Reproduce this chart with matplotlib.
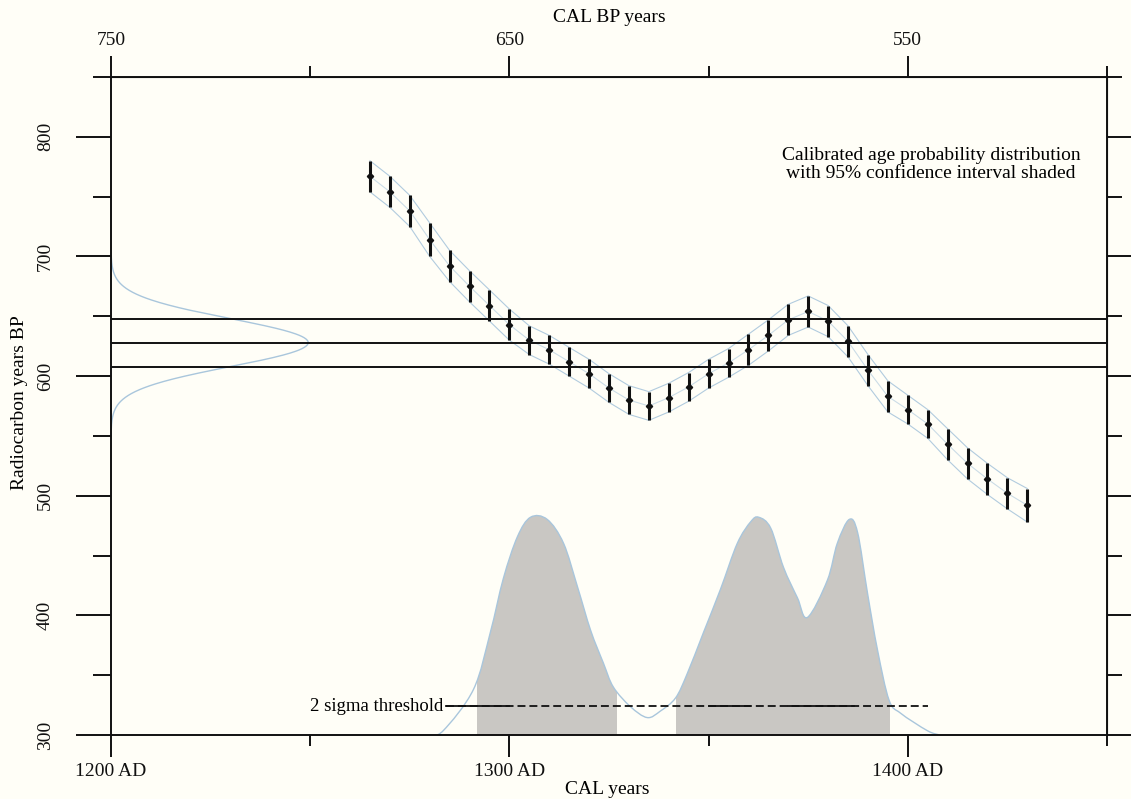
import numpy as np
import matplotlib.pyplot as plt
from matplotlib.path import Path
from matplotlib.patches import PathPatch, Rectangle

plt.rcParams['font.family'] = ['Liberation Serif', 'DejaVu Serif']
plt.rcParams['font.size'] = 14

# calibration curve: calendar year AD vs radiocarbon age BP (1 sigma)
cal_years = [1265, 1270, 1275, 1280, 1285, 1290, 1295, 1300, 1305, 1310,
             1315, 1320, 1325, 1330, 1335, 1340, 1345, 1350, 1355, 1360,
             1365, 1370, 1375, 1380, 1385, 1390, 1395, 1400, 1405, 1410,
             1415, 1420, 1425, 1430]
cal_bp = [767, 754, 738, 714, 692, 675, 659, 643, 630, 622,
          612, 602, 590, 580, 575, 582, 591, 602, 611, 622,
          634, 647, 654, 646, 629, 605, 583, 572, 560, 543,
          527, 514, 502, 492]
cal_err = [13, 13, 13, 14, 13, 13, 13, 13, 12, 12,
           12, 12, 12, 12, 12, 12, 12, 12, 12, 13,
           13, 13, 13, 13, 13, 13, 13, 12, 12, 13,
           13, 13, 13, 14]

# measured sample
sample_age = 628
sample_err = 20

# calibrated probability (relative to peak)
dist_years = [1280.0, 1283.4, 1291.0, 1295.2, 1298.5, 1302.0, 1305.3, 1309.5, 1313.6,
              1317.1, 1320.4, 1323.6, 1326.1, 1330.4, 1334.6, 1337.9, 1341.7,
              1344.6, 1348.7, 1353.0, 1357.2, 1360.6, 1362.6, 1365.6, 1368.8,
              1372.3, 1374.8, 1379.8, 1382.3, 1385.3, 1387.4, 1389.9, 1392.4,
              1395.3, 1398.2, 1404.9, 1408.0]
dist_prob = [0.00, 0.02, 0.21, 0.47, 0.72, 0.91, 1.00, 0.99, 0.88,
             0.68, 0.48, 0.33, 0.22, 0.13, 0.08, 0.11, 0.17,
             0.28, 0.47, 0.67, 0.88, 0.98, 1.00, 0.95, 0.77,
             0.63, 0.54, 0.71, 0.88, 0.99, 0.93, 0.65, 0.39,
             0.16, 0.10, 0.02, 0.00]
ranges_95 = [(1291.9, 1327.1), (1341.7, 1395.6)]

# 2 sigma threshold line
threshold_bp = 324
threshold_span = (1284, 1405)
threshold_solid = [(1284, 1300), (1350, 1360.5), (1370, 1386.5)]

bg = '#fffef7'
band_col = '#a9c6dc'
fill_col = '#c9c7c3'
ink = '#111111'


def smooth_verts(x, y):
    """Catmull-Rom curve through the points, as cubic bezier segments."""
    pts = np.column_stack([x, y]).astype(float)
    verts = [pts[0]]
    codes = [Path.MOVETO]
    n = len(pts)
    for i in range(n - 1):
        p0 = pts[max(i - 1, 0)]
        p1, p2 = pts[i], pts[i + 1]
        p3 = pts[min(i + 2, n - 1)]
        verts += [p1 + (p2 - p0) / 6, p2 - (p3 - p1) / 6, p2]
        codes += [Path.CURVE4] * 3
    return verts, codes


fig = plt.figure(figsize=(11.31, 7.99), dpi=100, facecolor=bg)
W, H = 1131, 799
ax = fig.add_axes([111 / W, (H - 735) / H, (1107 - 111) / W, (735 - 77) / H])
ax.set_facecolor(bg)
ax.set_xlim(1200, 1450)
ax.set_ylim(300, 850)

base = 300
dist_height = 182  # radiocarbon-axis units for a probability of 1

# probability distribution along the bottom, shaded inside the 95% ranges
dy = base + np.array(dist_prob) * dist_height
verts, codes = smooth_verts(dist_years, dy)
for lo, hi in ranges_95:
    fv = verts + [(dist_years[-1], base), (dist_years[0], base), verts[0]]
    fc = codes + [Path.LINETO, Path.LINETO, Path.CLOSEPOLY]
    patch = PathPatch(Path(fv, fc), facecolor=fill_col, lw=0, zorder=1)
    ax.add_patch(patch)
    clip = Rectangle((lo, base), hi - lo, 600, transform=ax.transData)
    patch.set_clip_path(clip)
ax.add_patch(PathPatch(Path(verts, codes), facecolor='none', edgecolor=band_col,
                       lw=1.0, zorder=2))

# sample measurement gaussian on the left axis
r = np.linspace(sample_age - 4 * sample_err, sample_age + 4 * sample_err, 300)
g = np.exp(-0.5 * ((r - sample_age) / sample_err) ** 2)
ax.plot(1200 + 49.5 * g, r, color=band_col, lw=1.0, zorder=2)

for v in (sample_age - sample_err, sample_age, sample_age + sample_err):
    ax.axhline(v, color=ink, lw=1.4, zorder=3)

# calibration curve band and points
cy = np.array(cal_years)
cb = np.array(cal_bp)
ce = np.array(cal_err)
for k in (-1, 0, 1):
    ax.plot(cy, cb + k * ce, color=band_col, lw=0.8, alpha=0.9 if k else 0.6, zorder=2)
ax.errorbar(cy, cb, yerr=ce, fmt='D', ms=3.2, color=ink, elinewidth=2.2,
            capsize=0, zorder=4)

# threshold
ax.plot(threshold_span, [threshold_bp] * 2, color=ink, lw=1.3,
        ls=(0, (4.4, 2.2)), zorder=5)
for a, b in threshold_solid:
    ax.plot([a, b], [threshold_bp] * 2, color=ink, lw=1.3, zorder=5)
ax.text(threshold_span[0] - 0.5, threshold_bp, '2 sigma threshold',
        ha='right', va='center', fontsize=13.5, zorder=5)

ax.text(1405.8, 777, 'Calibrated age probability distribution\nwith 95% confidence interval shaded',
        ha='center', va='center', multialignment='center', linespacing=1.1, fontsize=14)

# axes, ticks
for s in ax.spines.values():
    s.set_linewidth(1.4)
    s.set_color(ink)

ax.set_xticks([1200, 1300, 1400])
ax.set_xticklabels(['1200 AD', '1300 AD', '1400 AD'])
ax.set_xticks([1250, 1350, 1450], minor=True)
ax.set_yticks([300, 400, 500, 600, 700, 800])
ax.set_yticklabels(['300', '400', '500', '600', '700', '800'], rotation=90, va='center')
ax.set_yticks([350, 450, 550, 650, 750, 850], minor=True)
ax.tick_params(axis='x', which='major', direction='out', length=16, width=1.4, pad=4, colors=ink)
ax.tick_params(axis='x', which='minor', direction='out', length=8, width=1.4, colors=ink)
ax.tick_params(axis='y', which='major', direction='out', length=25, width=1.4, pad=16, colors=ink)
ax.tick_params(axis='y', which='minor', direction='out', length=13, width=1.4, colors=ink)

top = ax.secondary_xaxis('top', functions=(lambda x: 1950 - x, lambda x: 1950 - x))
top.set_xticks([750, 650, 550])
top.set_xticks([700, 600, 500], minor=True)
top.tick_params(which='major', direction='out', length=15, width=1.4, pad=5, colors=ink)
top.tick_params(which='minor', direction='out', length=8, width=1.4, colors=ink)

right = ax.secondary_yaxis('right')
right.set_yticks([300, 400, 500, 600, 700, 800])
right.set_yticks([350, 450, 550, 650, 750, 850], minor=True)
right.set_yticklabels([])
right.tick_params(which='major', direction='out', length=17, width=1.4, colors=ink)
right.tick_params(which='minor', direction='out', length=11, width=1.4, colors=ink)

fig.text(609 / W, 1 - 17 / H, 'CAL BP years', ha='center', va='center', fontsize=14)
fig.text(607 / W, 1 - 789 / H, 'CAL years', ha='center', va='center', fontsize=14)
fig.text(20 / W, 1 - 403 / H, 'Radiocarbon years BP', ha='center', va='center',
         rotation=90, fontsize=14)

fig.savefig('out.png', dpi=100, facecolor=bg)
